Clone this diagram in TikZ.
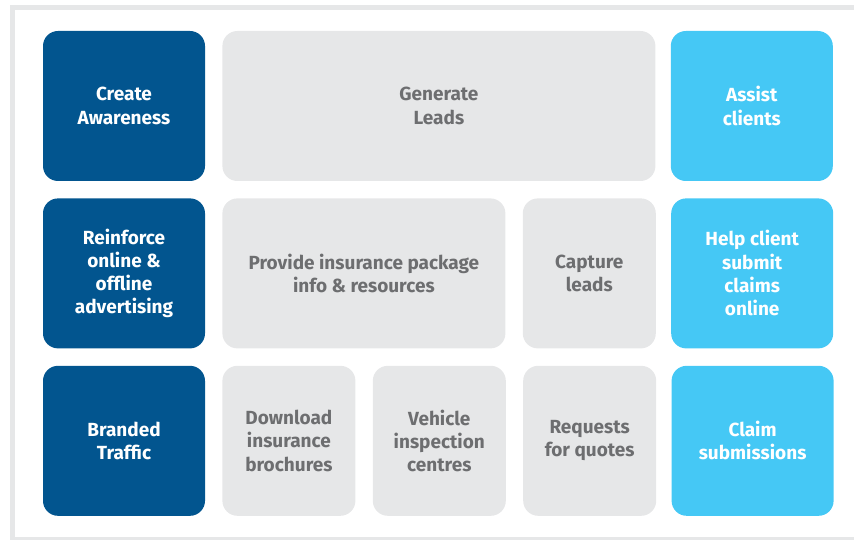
\documentclass[tikz,border=0pt]{standalone}
\usepackage{fontspec}
\setmainfont{Fira Sans}
\usetikzlibrary{positioning}

\definecolor{darkblue}{HTML}{02558F}
\definecolor{skyblue}{HTML}{45C8F5}
\definecolor{lightgray}{HTML}{E6E7E8}
\definecolor{textgray}{HTML}{6D6E70}

\tikzset{
  tile/.style={rectangle, rounded corners=15pt, inner sep=0pt, align=center,
    minimum height=150pt, font=\fontsize{19}{23.3}\selectfont\bfseries},
  darktile/.style={tile, fill=darkblue, text=white},
  skytile/.style={tile, fill=skyblue, text=white},
  graytile/.style={tile, fill=lightgray, text=textgray}
}

\begin{document}
\begin{tikzpicture}[x=1pt, y=-1pt, node distance=17pt]

\path[use as bounding box, clip] (0,0) rectangle (854,540);
\draw[lightgray, line width=5pt] (12.5,7.5) rectangle (900,539);

% first row
\node (aware) [darktile, minimum width=162pt] at (124,106) {Create\\Awareness};
\node (leads) [graytile, minimum width=433pt, right=of aware] {Generate\\Leads};
\node (assist) [skytile, minimum width=162pt, right=15pt of leads] {Assist\\clients};

% second row
\node (reinforce) [darktile, minimum width=162pt, below=of aware] {Reinforce\\online \&\\offline\\advertising};
\node (provide) [graytile, minimum width=283pt, right=of reinforce] {Provide insurance package\\info \& resources};
\node (capture) [graytile, minimum width=133pt, right=of provide] {Capture\\leads};
\node (help) [skytile, minimum width=162pt, right=15pt of capture] {Help client\\submit\\claims\\online};

% third row
\node (branded) [darktile, minimum width=162pt, below=of reinforce] {Branded\\Traffic};
\node (download) [graytile, minimum width=133pt, right=of branded] {Download\\insurance\\brochures};
\node (vehicle) [graytile, minimum width=133pt, right=of download] {Vehicle\\inspection\\centres};
\node (quotes) [graytile, minimum width=133pt, right=of vehicle] {Requests\\for quotes};
\node (claim) [skytile, minimum width=162pt, right=15pt of quotes] {Claim\\submissions};

\end{tikzpicture}
\end{document}
